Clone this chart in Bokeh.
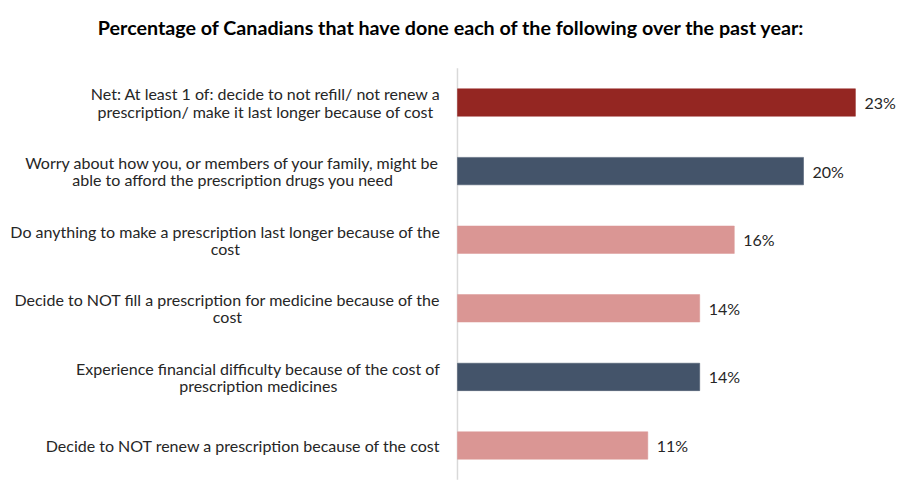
from bokeh.plotting import figure
from bokeh.models import ColumnDataSource, Range1d
from bokeh.core.properties import value
from bokeh.embed import file_html
from bokeh.resources import INLINE

title_text = "Percentage of Canadians that have done each of the following over the past year:"
categories = [
    "Net: At least 1 of: decide to not refill/ not renew a\nprescription/ make it last longer because of cost",
    "Worry about how you, or members of your family, might be\nable to afford the prescription drugs you need",
    "Do anything to make a prescription last longer because of the\ncost",
    "Decide to NOT fill a prescription for medicine because of the\ncost",
    "Experience financial difficulty because of the cost of\nprescription medicines",
    "Decide to NOT renew a prescription because of the cost",
]
values = [23, 20, 16, 14, 14, 11]
value_labels = ["23%", "20%", "16%", "14%", "14%", "11%"]
colors = ["#942622", "#44546A", "#DA9694", "#DA9694", "#44546A", "#DA9694"]

n = len(categories)
rows = list(range(n))
src = ColumnDataSource(dict(row=rows, cat=categories, val=values, lab=value_labels,
                            col=colors, zero=[0] * n))

W, H = 898, 495
p = figure(width=W, height=H, output_backend="svg", toolbar_location=None,
           x_range=Range1d(-25.95, 25.49), y_range=Range1d(n - 0.49, -1.487),
           min_border_left=8, min_border_right=0, min_border_top=0, min_border_bottom=15)

# title (drawn inside the frame, above the category block)
p.text(x=[-0.35], y=[-1.093], text=[title_text], text_align="center", text_baseline="middle",
       text_font=value("Lato"), text_font_size="19.7px", text_font_style="bold",
       text_color="#000000")

# vertical axis line spanning the category block
p.segment(x0=[0], x1=[0], y0=[-0.5], y1=[n - 0.5], line_color="#D9D9D9", line_width=1.5)

p.hbar(y="row", left=0, right="val", height=0.4, source=src, fill_color="col",
       line_color="col", line_width=0.5)

p.text(x="val", y="row", text="lab", source=src, x_offset=9, text_align="left",
       text_baseline="middle", text_font=value("Lato"), text_font_size="16px",
       text_color="#262626")

p.text(x="zero", y="row", text="cat", source=src, x_offset=-17, anchor="center_right",
       text_align="center", text_baseline="middle", text_line_height=0.9,
       text_font=value("Lato"), text_font_size="16px", text_color="#262626")

p.xaxis.visible = False
p.yaxis.visible = False
p.xgrid.visible = False
p.ygrid.visible = False
p.outline_line_color = None

open("out.html", "w").write(file_html(p, INLINE))
